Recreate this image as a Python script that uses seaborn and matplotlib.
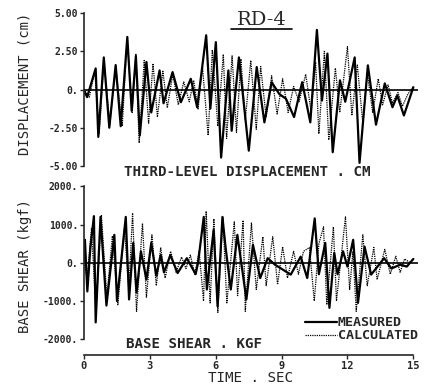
import numpy as np
import pandas as pd
import seaborn as sns
from matplotlib import pyplot as plt
from matplotlib.lines import Line2D

# third-level displacement (cm), peaks/troughs
disp_meas_t = [0.0, 0.15, 0.54, 0.66, 0.91, 1.16, 1.45, 1.68, 1.98, 2.18, 2.37, 2.55, 2.85, 3.07,
               3.45, 3.63, 4.04, 4.42, 4.87, 5.16, 5.57, 5.76, 6.01, 6.25, 6.58, 6.73, 7.06, 7.51,
               7.87, 8.22, 8.55, 8.9, 9.2, 9.57, 9.94, 10.31, 10.61, 10.84, 11.09, 11.33, 11.66,
               11.9, 12.33, 12.55, 12.93, 13.3, 13.7, 14.05, 14.27, 14.57, 15.0]
disp_meas = [0.0, -0.5, 1.38, -3.1, 2.1, -2.5, 1.6, -2.4, 3.44, -1.4, 2.2, -3.0, 1.8, -1.5,
             1.25, -0.9, 1.14, -0.83, 0.7, -1.16, 3.55, -1.25, 3.1, -4.45, 1.25, -2.7, 2.1, -4.0,
             1.47, -2.15, 0.48, -0.3, -0.6, -1.8, 0.48, -2.15, 3.9, -0.72, 2.35, -4.1, 0.6,
             -0.8, 2.1, -4.8, 1.58, -2.3, 0.4, -1.16, -0.4, -1.7, 0.15]

disp_calc_t = [0.0, 0.25, 0.5, 0.7, 0.92, 1.18, 1.45, 1.75, 1.97, 2.2, 2.37, 2.52, 2.75, 2.95,
               3.15, 3.35, 3.6, 3.8, 4.05, 4.3, 4.55, 4.8, 5.0, 5.2, 5.4, 5.66, 5.85, 6.1, 6.35,
               6.5, 6.75, 6.95, 7.15, 7.35, 7.6, 7.85, 8.05, 8.3, 8.55, 8.8, 9.05, 9.3, 9.55,
               9.8, 10.1, 10.35, 10.55, 10.7, 10.95, 11.15, 11.45, 11.65, 12.0, 12.2, 12.45,
               12.7, 12.9, 13.15, 13.4, 13.6, 13.85, 14.05, 14.3, 14.5, 14.75, 15.0]
disp_calc = [0.0, -0.5, 1.2, -2.9, 1.9, -2.3, 1.5, -2.4, 3.3, -1.5, 2.3, -3.5, 1.9, -2.2,
             1.7, -1.8, 1.2, -1.2, 1.0, -1.0, 0.5, -0.8, 0.6, -1.3, 1.5, -3.0, 2.6, -2.4, 2.3,
             -3.2, 2.2, -2.8, 2.0, -2.0, 1.9, -2.6, 1.5, -1.8, 0.9, -1.6, 0.7, -1.5, 0.2,
             -0.8, 1.0, -1.5, 1.8, -2.9, 2.5, -3.3, 1.4, -1.5, 2.8, -1.7, 1.6,
             -2.2, 1.1, -1.5, 0.7, -1.0, 0.3, -0.9, -0.2, -1.1, -0.3, 0.2]

# base shear (kgf)
shear_meas_t = [0.0, 0.05, 0.16, 0.3, 0.46, 0.54, 0.76, 1.03, 1.39, 1.51, 1.91, 2.06, 2.25, 2.4,
                2.6, 2.85, 3.07, 3.3, 3.5, 3.65, 3.94, 4.27, 4.69, 5.09, 5.2, 5.46, 5.6, 5.91,
                6.09, 6.31, 6.45, 6.69, 6.99, 7.4, 7.7, 8.03, 8.37, 8.7, 9.42, 9.87, 10.17,
                10.51, 10.7, 10.99, 11.18, 11.4, 11.55, 11.8, 12.0, 12.26, 12.48, 12.78, 13.08,
                13.67, 14.0, 14.4, 14.7, 15.0]
shear_meas = [0, 600, -750, 400, 1220, -1560, 1200, -1120, 730, -1000, 1200, -960, 520, -780,
              300, -440, 520, -340, 200, -250, 200, -270, 120, -300, 0, 1200, -700, 860,
              -1140, 1200, 420, -700, 730, -960, 470, -400, 120, -50, -310, 160, -400,
              1160, -300, 520, -1180, 260, -300, 300, -100, 600, -1050, 420, -310,
              120, -150, -50, -100, 100]

shear_calc_t = [0.0, 0.15, 0.35, 0.55, 0.8, 1.05, 1.3, 1.55, 1.85, 2.05, 2.22, 2.4, 2.67, 2.85,
                3.1, 3.3, 3.5, 3.7, 3.95, 4.2, 4.45, 4.65, 4.85, 5.05, 5.25, 5.45, 5.57, 5.75,
                5.92, 6.1, 6.33, 6.51, 6.85, 7.0, 7.25, 7.35, 7.63, 7.85, 8.15, 8.3, 8.6,
                8.82, 9.05, 9.27, 9.55, 9.77, 10.0, 10.27, 10.49, 10.7, 10.91, 11.06, 11.36,
                11.5, 11.91, 12.1, 12.25, 12.4, 12.7, 12.9, 13.2, 13.35, 13.7, 13.95, 14.2,
                14.4, 14.6, 14.85, 15.0]
shear_calc = [0, -400, 900, -1300, 1250, -900, 700, -1100, 900, -700, 1300, -1270, 1030, -900,
              730, -600, 400, -400, 300, -250, 150, -150, 200, -300, 300, -1000, 1350, -1050,
              1150, -1300, 1200, -1050, 1070, -860, 1110, -1270, 1040, -700, 680, -600, 680,
              -570, 420, -400, 300, -300, 300, 400, -1000, 500, 940, -1100, 940,
              -1000, 1200, -700, 300, -1270, 730, -600, 400, -440, 350, -300, 170,
              -250, 100, 0, 100]

disp_m = pd.DataFrame({'t': disp_meas_t, 'v': disp_meas})
disp_c = pd.DataFrame({'t': disp_calc_t, 'v': disp_calc})
shear_m = pd.DataFrame({'t': shear_meas_t, 'v': shear_meas})
shear_c = pd.DataFrame({'t': shear_calc_t, 'v': shear_calc})

sns.set_style('ticks')
plt.rcParams['font.family'] = ['DejaVu Sans Mono', 'DejaVu Sans']
plt.rcParams['font.weight'] = 'bold'

fig = plt.figure(figsize=(4.32, 3.85), dpi=100)
ax1 = fig.add_axes([0.194, 0.569, 0.773, 0.397])
ax2 = fig.add_axes([0.194, 0.119, 0.773, 0.397])

for ax, m, c in [(ax1, disp_m, disp_c), (ax2, shear_m, shear_c)]:
    sns.lineplot(data=c, x='t', y='v', ax=ax, color='black', lw=0.9, ls=(0, (1, 0.8)),
                 estimator=None, sort=False, label='CALCULATED')
    sns.lineplot(data=m, x='t', y='v', ax=ax, color='black', lw=1.6,
                 estimator=None, sort=False, label='MEASURED')
    ax.axhline(0, color='black', lw=1.2)
    ax.set_xlim(0, 15.2)
    for s in ['top', 'right']:
        ax.spines[s].set_visible(False)
    ax.spines['left'].set_linewidth(1.2)
    ax.tick_params(axis='y', direction='out', length=3, width=1, labelsize=7, pad=1)
    ax.get_legend().remove()

ax1.set_ylim(-5, 5)
ax1.set_yticks([5, 2.5, 0, -2.5, -5])
ax1.set_yticklabels(['5.00', '2.50', '0.', '-2.50', '-5.00'])
ax1.spines['bottom'].set_visible(False)
ax1.set_xticks([])
ax1.set_xlabel('')
ax1.set_ylabel('DISPLACEMENT (cm)', fontsize=10)
ax1.yaxis.set_label_coords(-0.156, 0.536)
ax1.text(0.49, -0.04, 'THIRD-LEVEL DISPLACEMENT . CM', transform=ax1.transAxes,
         ha='center', va='center', fontsize=10.2)

ax2.set_ylim(-2000, 2000)
ax2.set_yticks([2000, 1000, 0, -1000, -2000])
ax2.set_yticklabels(['2000.', '1000.', '0.', '-1000.', '-2000.'])
ax2.spines['bottom'].set_position(('outward', 11.5))
ax2.spines['bottom'].set_bounds(0, 15)
ax2.spines['bottom'].set_linewidth(1.2)
ax2.set_xticks([0, 3, 6, 9, 12, 15])
ax2.set_xticklabels(['0', '3', '6', '9', '12', '15'])
ax2.tick_params(axis='x', direction='out', length=3, width=1, labelsize=7.5, pad=1)
ax2.set_xlabel('TIME . SEC', fontsize=10.2, labelpad=0.5)
ax2.set_ylabel('BASE SHEAR (kgf)', fontsize=10)
ax2.yaxis.set_label_coords(-0.156, 0.48)
ax2.text(0.33, -0.03, 'BASE SHEAR . KGF', transform=ax2.transAxes,
         ha='center', va='center', fontsize=10.2)

handles = [Line2D([], [], color='black', lw=1.6),
           Line2D([], [], color='black', lw=0.9, ls=(0, (1, 0.8)))]
ax2.legend(handles, ['MEASURED', 'CALCULATED'], loc='lower right', bbox_to_anchor=(1.0, -0.02),
           frameon=False, fontsize=9.6, handlelength=2.4, handletextpad=0.05,
           labelspacing=0.0, borderpad=0, borderaxespad=0)

fig.text(0.606, 0.935, 'RD-4', family='DejaVu Serif', fontsize=14, fontweight='normal',
         ha='center', va='baseline')
fig.add_artist(Line2D([0.535, 0.676], [0.925, 0.925], color='black', lw=1.2))

plt.savefig('out.png', dpi=100)
